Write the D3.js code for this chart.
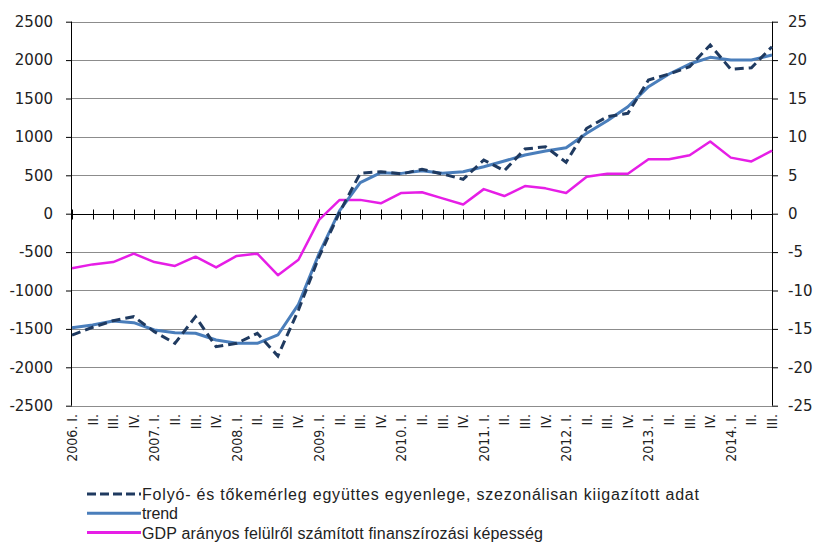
<!DOCTYPE html>
<html>
<head>
<meta charset="utf-8">
<script src="https://cdn.jsdelivr.net/npm/d3@7"></script>
<style>
  body { margin: 0; background: #fff; }
</style>
</head>
<body>
<script>
var w = 816;
var h = 542;

// quarters 2006 I. - 2014 III.
var quarters = ["2006. I.", "II.", "III.", "IV.",
                "2007. I.", "II.", "III.", "IV.",
                "2008. I.", "II.", "III.", "IV.",
                "2009. I.", "II.", "III.", "IV.",
                "2010. I.", "II.", "III.", "IV.",
                "2011. I.", "II.", "III.", "IV.",
                "2012. I.", "II.", "III.", "IV.",
                "2013. I.", "II.", "III.", "IV.",
                "2014. I.", "II.", "III."];

// left axis (millió euro)
var balance = [-1580, -1479, -1393, -1341, -1536, -1688, -1341, -1732, -1688, -1557, -1853, -1254,
               -560, 20, 526, 547, 517, 578, 517, 448, 699, 560, 842, 872,
               669, 1112, 1263, 1307, 1741, 1819, 1914, 2197, 1880, 1901, 2174];
var trend = [-1484, -1449, -1397, -1419, -1514, -1549, -1557, -1644, -1688, -1688, -1579, -1180,
             -520, 40, 404, 534, 525, 560, 526, 547, 612, 686, 764, 816,
             859, 1047, 1211, 1393, 1654, 1819, 1949, 2036, 2001, 2001, 2066];
// right axis (GDP %)
var gdp = [-7.1, -6.6, -6.3, -5.2, -6.3, -6.8, -5.6, -7.0, -5.5, -5.2, -8.0, -6.0,
           -0.8, 1.8, 1.8, 1.35, 2.7, 2.8, 2.0, 1.2, 3.2, 2.3, 3.6, 3.3,
           2.7, 4.8, 5.2, 5.2, 7.1, 7.1, 7.6, 9.4, 7.3, 6.8, 8.2];

var leftTicks = [2500, 2000, 1500, 1000, 500, 0, -500, -1000, -1500, -2000, -2500];
var rightTicks = [25, 20, 15, 10, 5, 0, -5, -10, -15, -20, -25];

var legendLabels = ["Folyó- és tőkemérleg együttes egyenlege, szezonálisan kiigazított adat",
                    "trend",
                    "GDP arányos felülről számított finanszírozási képesség"];

// plot box (note: "top" is reserved on window, so use other names)
var plotLeft = 72, plotRight = 772, plotTop = 21.7, plotBottom = 405.7;

var svg = d3.select("body")
    .append("svg")
    .attr("width", w)
    .attr("height", h);

var x = d3.scalePoint()
    .domain(d3.range(quarters.length))
    .range([plotLeft, plotRight]);

var yL = d3.scaleLinear().domain([-2500, 2500]).range([plotBottom, plotTop]);
var yR = d3.scaleLinear().domain([-25, 25]).range([plotBottom, plotTop]);

// gridlines
svg.append("g")
  .selectAll("line")
  .data(leftTicks.filter(function(d) { return d != 0; }))
  .enter()
  .append("line")
  .attr("x1", plotLeft)
  .attr("x2", plotRight)
  .attr("y1", function(d) { return Math.round(yL(d)) + 0.5; })
  .attr("y2", function(d) { return Math.round(yL(d)) + 0.5; })
  .attr("stroke", "#8c8c8c")
  .attr("stroke-width", 1);

// left axis
var axisL = d3.axisLeft(yL)
    .tickValues(leftTicks)
    .tickSize(6)
    .tickPadding(13)
    .tickFormat(function(d) { return String(d); });

svg.append("g")
  .attr("transform", "translate(" + plotLeft + ",0)")
  .call(axisL)
  .call(function(g) { g.select(".domain").attr("d", "M-0.5," + plotTop + "V" + plotBottom); })
  .selectAll("text")
  .attr("font-family", "DejaVu Sans, Verdana, sans-serif")
  .attr("font-size", 15)
  .attr("fill", "#222");

// right axis
var axisR = d3.axisRight(yR)
    .tickValues(rightTicks)
    .tickSize(6)
    .tickPadding(10)
    .tickFormat(function(d) { return String(d); });

svg.append("g")
  .attr("transform", "translate(" + plotRight + ",0)")
  .call(axisR)
  .call(function(g) { g.select(".domain").attr("d", "M0.5," + plotTop + "V" + plotBottom); })
  .selectAll("text")
  .attr("font-family", "DejaVu Sans, Verdana, sans-serif")
  .attr("font-size", 15)
  .attr("fill", "#222");

// category axis on the zero line, cross ticks
var y0 = Math.round(yL(0)) + 0.5;
svg.append("line")
  .attr("x1", plotLeft)
  .attr("x2", plotRight)
  .attr("y1", y0)
  .attr("y2", y0)
  .attr("stroke", "#000");

svg.append("g")
  .selectAll("line")
  .data(d3.range(quarters.length))
  .enter()
  .append("line")
  .attr("x1", function(d) { return Math.round(x(d)) + 0.5; })
  .attr("x2", function(d) { return Math.round(x(d)) + 0.5; })
  .attr("y1", y0 - 5)
  .attr("y2", y0 + 5)
  .attr("stroke", "#000");

// category labels at the bottom
svg.append("g")
  .selectAll("text")
  .data(quarters)
  .enter()
  .append("text")
  .attr("transform", function(d, i) { return "translate(" + (x(i) + 5) + ",414) rotate(-90)"; })
  .attr("text-anchor", "end")
  .attr("font-family", "DejaVu Sans Condensed, DejaVu Sans, sans-serif")
  .attr("font-size", 14)
  .attr("fill", "#222")
  .text(function(d) { return d; });

// series
var lineL = d3.line()
    .x(function(d, i) { return x(i); })
    .y(function(d) { return yL(d); });

var lineR = d3.line()
    .x(function(d, i) { return x(i); })
    .y(function(d) { return yR(d); });

svg.append("path")
  .attr("d", lineR(gdp))
  .attr("fill", "none")
  .attr("stroke", "#e61ee6")
  .attr("stroke-width", 2.5)
  .attr("stroke-linejoin", "round");

svg.append("path")
  .attr("d", lineL(trend))
  .attr("fill", "none")
  .attr("stroke", "#4a7ebb")
  .attr("stroke-width", 3)
  .attr("stroke-linejoin", "round");

svg.append("path")
  .attr("d", lineL(balance))
  .attr("fill", "none")
  .attr("stroke", "#1f3a60")
  .attr("stroke-width", 3)
  .attr("stroke-dasharray", "9,5");

// legend
var legendStyles = [
  { color: "#1f3a60", dash: "9,4", len: 557 },
  { color: "#4a7ebb", dash: null, len: 36 },
  { color: "#e61ee6", dash: null, len: 401 }
];

var legend = svg.append("g")
  .selectAll("g")
  .data(legendLabels)
  .enter()
  .append("g")
  .attr("transform", function(d, i) { return "translate(0," + (494 + i * 19.3) + ")"; });

legend.append("line")
  .attr("x1", 87)
  .attr("x2", 141)
  .attr("stroke", function(d, i) { return legendStyles[i].color; })
  .attr("stroke-width", 3)
  .attr("stroke-dasharray", function(d, i) { return legendStyles[i].dash; });

legend.append("text")
  .attr("x", 142)
  .attr("y", 6)
  .attr("font-family", "Liberation Sans, Arial, sans-serif")
  .attr("font-size", 16)
  .attr("fill", "#222")
  .attr("textLength", function(d, i) { return legendStyles[i].len; })
  .attr("lengthAdjust", "spacing")
  .text(function(d) { return d; });
</script>
</body>
</html>
